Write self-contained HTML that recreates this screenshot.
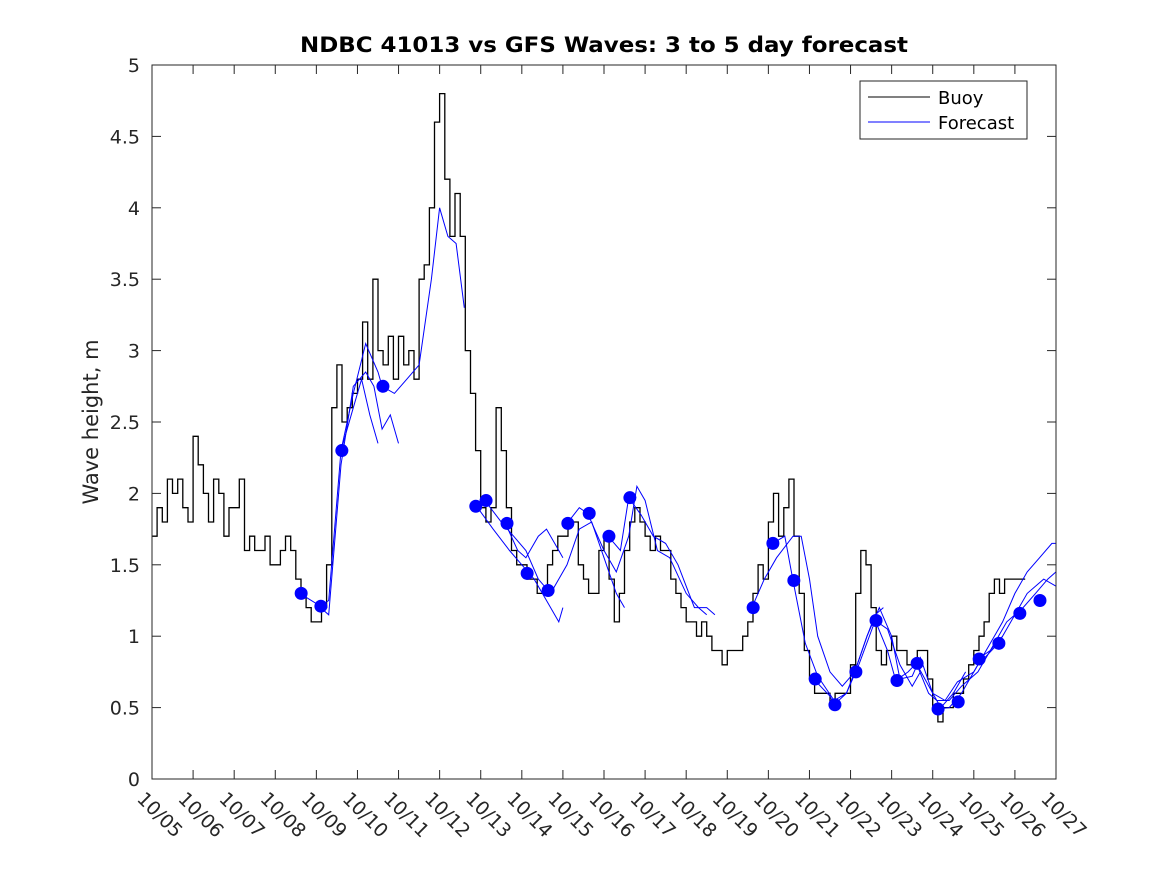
<!DOCTYPE html>
<html><head><meta charset="utf-8"><style>
body{margin:0;background:#fff}
svg{display:block;font-family:"DejaVu Sans","Liberation Sans",sans-serif}
</style></head><body>
<svg id="chart" width="1167" height="875" viewBox="0 0 1167 875">
<rect width="1167" height="875" fill="#fff"/>
<g id="plot"></g>
</svg>
<script>
const dateLabels=["10/05","10/06","10/07","10/08","10/09","10/10","10/11","10/12","10/13","10/14","10/15","10/16","10/17","10/18","10/19","10/20","10/21","10/22","10/23","10/24","10/25","10/26","10/27"];
const yTicks=[0,0.5,1,1.5,2,2.5,3,3.5,4,4.5,5];
const yTickLabels=["0","0.5","1","1.5","2","2.5","3","3.5","4","4.5","5"];
// buoy values every 3 hours starting 10/05 00:00
const buoy=[
1.7,1.9,1.8,2.1,2.0,2.1,1.9,1.8,
2.4,2.2,2.0,1.8,2.1,2.0,1.7,1.9,
1.9,2.1,1.6,1.7,1.6,1.6,1.7,1.5,
1.5,1.6,1.7,1.6,1.4,1.3,1.2,1.1,
1.1,1.2,1.5,2.6,2.9,2.5,2.6,2.7,
2.8,3.2,2.8,3.5,3.0,2.9,3.1,2.8,
3.1,2.9,3.0,2.8,3.5,3.6,4.0,4.6,
4.8,4.2,3.8,4.1,3.8,3.0,2.7,2.3,
1.9,1.8,1.9,2.6,2.3,1.9,1.6,1.5,
1.5,1.4,1.4,1.3,1.3,1.5,1.6,1.7,
1.7,1.8,1.8,1.5,1.4,1.3,1.3,1.6,
1.7,1.4,1.1,1.3,1.6,1.8,1.9,1.8,
1.7,1.6,1.7,1.6,1.6,1.4,1.3,1.2,
1.1,1.1,1.0,1.1,1.0,0.9,0.9,0.8,
0.9,0.9,0.9,1.0,1.1,1.3,1.5,1.4,
1.8,2.0,1.7,1.9,2.1,1.7,1.3,0.9,
0.7,0.6,0.6,0.6,0.5,0.6,0.6,0.6,
0.8,1.3,1.6,1.5,1.2,0.9,0.8,0.9,
1.0,0.9,0.9,0.8,0.8,0.9,0.9,0.7,
0.5,0.4,0.5,0.5,0.6,0.6,0.7,0.8,
0.9,1.0,1.1,1.3,1.4,1.3,1.4,1.4,
1.4,1.4];
const markerDays=[3.63,4.11,4.62,5.62,7.88,8.13,8.64,9.13,9.64,10.12,10.64,11.12,11.63,14.63,15.11,15.62,16.14,16.62,17.13,17.62,18.13,18.62,19.13,19.62,20.13,20.61,21.12,21.61];
const markerVals=[1.30,1.21,2.30,2.75,1.91,1.95,1.79,1.44,1.32,1.79,1.86,1.70,1.97,1.20,1.65,1.39,0.70,0.52,0.75,1.11,0.69,0.81,0.49,0.54,0.84,0.95,1.16,1.25];
const runA=[[3.6,1.30],[4.1,1.21],[4.3,1.25],[4.6,2.3],[4.9,2.7],[5.2,3.05],[5.5,2.85],[5.6,2.75],[5.9,2.7],[6.2,2.8],[6.5,2.9],[6.8,3.5],[7.0,4.0],[7.2,3.8],[7.4,3.75],[7.6,3.3]];
const runB=[[4.1,1.2],[4.3,1.15],[4.6,2.2],[4.9,2.75],[5.2,2.85],[5.4,2.75],[5.6,2.45],[5.8,2.55],[6.0,2.35]];
const runC=[[4.6,2.3],[4.9,2.6],[5.1,2.8],[5.3,2.55],[5.5,2.35]];
const runD=[[7.9,1.91],[8.3,1.75],[8.7,1.6],[9.0,1.5],[9.3,1.4],[9.6,1.25],[9.9,1.1],[10.0,1.2]];
const runE=[[8.1,1.95],[8.5,1.8],[8.8,1.7],[9.1,1.6],[9.4,1.4],[9.7,1.3],[10.1,1.5],[10.4,1.75],[10.7,1.8],[11.0,1.55],[11.3,1.3],[11.5,1.2]];
const runF=[[10.1,1.79],[10.4,1.9],[10.6,1.86],[11.0,1.6],[11.3,1.45],[11.6,1.7],[11.8,2.05],[12.0,1.95],[12.3,1.6],[12.6,1.55],[13.0,1.3],[13.3,1.2],[13.5,1.15]];
const runG=[[11.1,1.7],[11.4,1.6],[11.6,1.97],[11.9,1.85],[12.2,1.7],[12.5,1.65],[12.8,1.5],[13.2,1.2],[13.5,1.2],[13.7,1.15]];
const runH=[[8.6,1.79],[8.9,1.6],[9.1,1.55],[9.4,1.7],[9.6,1.75],[9.9,1.6],[10.0,1.55]];
const runI=[[14.6,1.2],[14.9,1.4],[15.2,1.55],[15.6,1.7],[15.8,1.7],[16.0,1.4],[16.2,1.0],[16.5,0.75],[16.8,0.65],[17.1,0.75],[17.4,1.0],[17.6,1.15],[17.8,1.2]];
const runJ=[[15.1,1.65],[15.4,1.7],[15.6,1.39],[15.9,0.95],[16.2,0.72],[16.6,0.55],[16.9,0.6],[17.2,0.8],[17.6,1.11],[17.9,1.05],[18.2,0.8],[18.5,0.65],[18.7,0.75]];
const runK=[[16.1,0.7],[16.5,0.58],[16.6,0.52],[16.9,0.6],[17.1,0.75],[17.4,1.0],[17.7,1.2],[18.0,1.0],[18.2,0.7],[18.5,0.72],[18.7,0.85],[19.0,0.6],[19.2,0.5],[19.5,0.6],[19.8,0.75]];
const runL=[[17.6,1.11],[17.9,0.9],[18.1,0.69],[18.4,0.75],[18.6,0.81],[18.9,0.6],[19.1,0.55],[19.4,0.55],[19.7,0.65],[20.1,0.75],[20.4,0.9],[20.7,1.0]];
const runM=[[18.6,0.81],[19.0,0.6],[19.3,0.55],[19.6,0.68],[20.0,0.75],[20.4,0.95],[20.7,1.1],[21.0,1.3],[21.3,1.45],[21.6,1.55],[21.9,1.65],[22.0,1.65]];
const runN=[[19.1,0.49],[19.4,0.5],[19.7,0.6],[20.1,0.8],[20.6,0.95],[20.9,1.1],[21.3,1.3],[21.7,1.4],[22.0,1.35]];
const runO=[[20.1,0.84],[20.4,0.9],[20.8,1.1],[21.2,1.2],[21.5,1.3],[21.8,1.4],[22.0,1.45]];
const runs=[runA,runB,runC,runD,runE,runF,runG,runH,runI,runJ,runK,runL,runM,runN,runO];

const L=152,R=1056,T=65,B=779,NS="http://www.w3.org/2000/svg";
const xs=d=>L+d*(R-L)/22;
const ys=v=>B-v*(B-T)/5;
const g=document.getElementById('plot');
function mk(tag,attrs,parent){const e=document.createElementNS(NS,tag);for(const k in attrs)e.setAttribute(k,attrs[k]);(parent||g).appendChild(e);return e;}

let d="";
buoy.forEach((v,i)=>{const x0=xs(i/8),x1=xs((i+1)/8),y=ys(v);d+=(i?"L":"M")+x0.toFixed(1)+","+y.toFixed(1)+"L"+x1.toFixed(1)+","+y.toFixed(1);});
const bl=mk('path',{d:d,fill:"none",stroke:"#000","stroke-width":1.3});



runs.forEach((r,i)=>{
  const p=mk('polyline',{points:r.map(q=>xs(q[0]).toFixed(1)+","+ys(q[1]).toFixed(1)).join(" "),fill:"none",stroke:"#0000ff","stroke-width":1});
  
  
});
markerDays.forEach((dd,i)=>{
  const c=mk('circle',{cx:xs(dd),cy:ys(markerVals[i]),r:6.5,fill:"#0000ff"});
  
  
});

const box=mk('rect',{x:L,y:T,width:R-L,height:B-T,fill:"none",stroke:"#262626","stroke-width":1});



yTicks.forEach((v,i)=>{
  const y=ys(v);
  mk('line',{x1:L,x2:L+9,y1:y,y2:y,stroke:"#262626"});
  mk('line',{x1:R,x2:R-9,y1:y,y2:y,stroke:"#262626"});
  const t=mk('text',{x:140,y:y+7,"text-anchor":"end","font-size":19,fill:"#262626"});
  t.textContent=yTickLabels[i];
  
  
});
dateLabels.forEach((s,i)=>{
  const x=xs(i);
  mk('line',{x1:x,x2:x,y1:B,y2:B-9,stroke:"#262626"});
  mk('line',{x1:x,x2:x,y1:T,y2:T+9,stroke:"#262626"});
  const t=mk('text',{x:0,y:0,transform:"translate("+(x-16)+",800) rotate(45)","font-size":19,fill:"#262626"});
  t.textContent=s;
  
  
});

const title=mk('text',{x:604,y:52,"text-anchor":"middle","font-size":21,"font-weight":"bold",fill:"#000",textLength:608,lengthAdjust:"spacingAndGlyphs"});
title.textContent="NDBC 41013 vs GFS Waves: 3 to 5 day forecast";


const yl=mk('text',{x:0,y:0,transform:"translate(98,422) rotate(-90)","text-anchor":"middle","font-size":21,fill:"#262626"});
yl.textContent="Wave height, m";



const lg=mk('g',{});


mk('rect',{x:860,y:81,width:167,height:58,fill:"#fff",stroke:"#262626"},lg);
mk('line',{x1:868,x2:930,y1:97,y2:97,stroke:"#000"},lg);
mk('line',{x1:868,x2:930,y1:122,y2:122,stroke:"#0000ff"},lg);
const t1=mk('text',{x:938,y:104,"font-size":18,fill:"#000"},lg);t1.textContent="Buoy";


const t2=mk('text',{x:938,y:129,"font-size":18,fill:"#000"},lg);t2.textContent="Forecast";


</script>
</body></html>
